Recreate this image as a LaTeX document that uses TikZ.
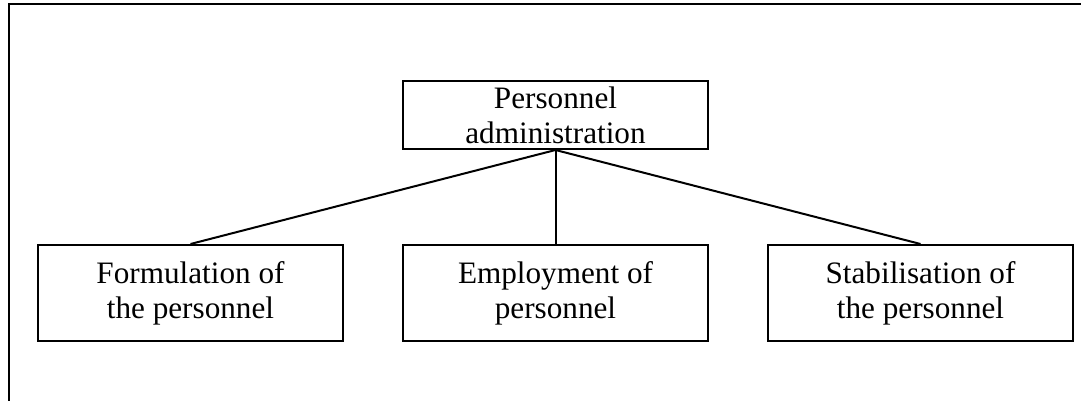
\documentclass[tikz,border=0pt]{standalone}
\usepackage{fontspec}
\setmainfont{Liberation Serif}
\begin{document}
\begin{tikzpicture}[x=0.5pt,y=-0.5pt]
		\tikzstyle{box}=[rectangle,draw,line width=1pt,minimum width=152.5pt,inner sep=0pt,align=center,font=\fontsize{15.6}{17.5}\selectfont]
		\useasboundingbox (0,0) rectangle (1081,401);
		\draw[line width=1pt] (8.5,401) -- (8.5,4.5) -- (1081,4.5);
		\node[box,minimum height=34pt] (adm) at (555.5,115) {Personnel\\administration};
		\node[box,minimum height=48pt] (form) at (190.5,293) {Formulation of\\the personnel};
		\node[box,minimum height=48pt] (empl) at (555.5,293) {Employment of\\personnel};
		\node[box,minimum height=48pt] (stab) at (920.5,293) {Stabilisation of\\the personnel};
		\draw[line width=1pt] (adm.south) -- (form.north);
		\draw[line width=1pt] (adm.south) -- (empl.north);
		\draw[line width=1pt] (adm.south) -- (stab.north);
	\end{tikzpicture}
\end{document}
